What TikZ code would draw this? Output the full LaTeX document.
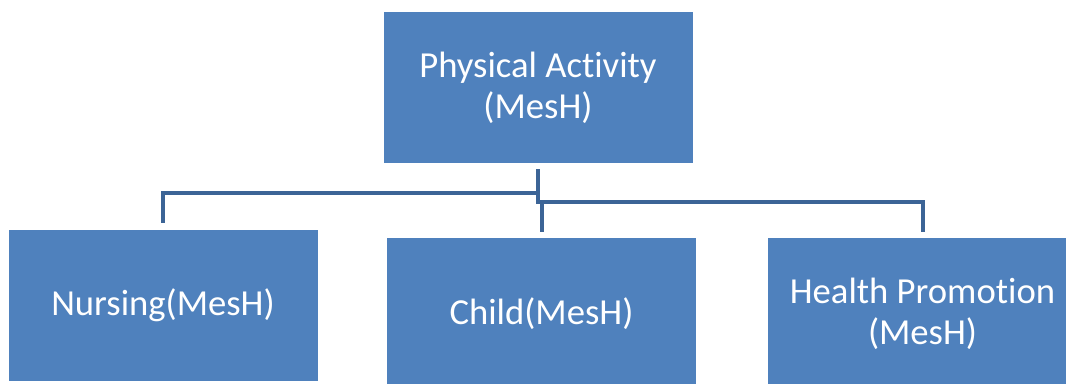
\documentclass[tikz,border=0pt]{standalone}
\usepackage{fontspec}
\setmainfont[Ligatures=NoCommon]{Carlito}
\usetikzlibrary{positioning}

\definecolor{boxblue}{RGB}{79,129,189}
\definecolor{linkblue}{RGB}{60,100,150}

\tikzset{
	meshbox/.style={fill=boxblue, text=white, align=center, inner sep=0pt,
		minimum width=231.75pt, minimum height=113.25pt,
		font=\fontsize{27.5}{30.5}\selectfont},
	link/.style={draw=linkblue, line width=3pt}
}

\begin{document}
\begin{tikzpicture}[x=0.75pt,y=0.75pt,yscale=-1,xscale=1]
	\useasboundingbox (0,0) rectangle (1066,383);
	\clip (0,0) rectangle (1066,383);
	
	% boxes
	\node [meshbox] (activity) at (538,87.5) {Physical Activity\\(MesH)};
	\node [meshbox] (nursing) at (163,305) {Nursing(MesH)};
	\node [meshbox] (child) at (541.5,313.5) {Child(MesH)};
	\node [meshbox] (health) at (922.5,313.5) {Health Promotion\\(MesH)};
	
	% connectors
	\draw [link] ([yshift=4.5pt]activity.south) |- (nursing.north |- 0,193) -- ([yshift=-4.5pt]nursing.north);
	\draw [link] ([yshift=4.5pt]activity.south) |- (health.north |- 0,202) -- ([yshift=-4.5pt]health.north);
	\draw [link] (child.north |- 0,202) -- ([yshift=-4.5pt]child.north);
\end{tikzpicture}
\end{document}
